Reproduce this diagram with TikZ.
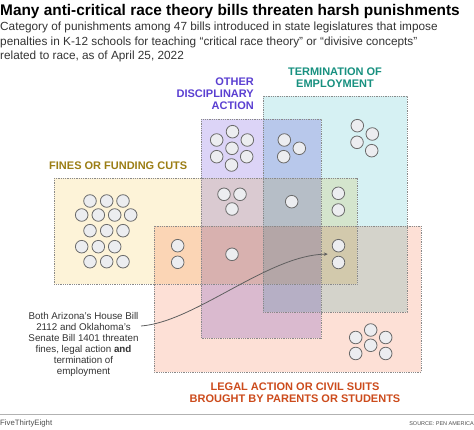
\documentclass[tikz,border=0pt]{standalone}
\usepackage{fontspec}
\setmainfont{Liberation Sans}
\usepackage{xcolor}
\usetikzlibrary{arrows.meta,positioning,calc}

\definecolor{termfill}{HTML}{D6F1F3}
\definecolor{discfill}{HTML}{DCD4F7}
\definecolor{finefill}{HTML}{FDF3D8}
\definecolor{legalfill}{HTML}{FDE0D6}
\definecolor{termtext}{HTML}{17907F}
\definecolor{disctext}{HTML}{5A3FD1}
\definecolor{finetext}{HTML}{9B7D14}
\definecolor{legaltext}{HTML}{CC4B1C}
\definecolor{framegray}{HTML}{8A8A8A}
\definecolor{dotfill}{HTML}{ECEDF0}
\definecolor{dotline}{HTML}{6A6A6A}
\definecolor{subgray}{HTML}{333333}

\begin{document}
\begin{tikzpicture}[x=1pt,y=-1pt,
  venn/.style={blend mode=multiply},
  frame/.style={draw=framegray,densely dotted,line width=0.8pt},
  dot/.style={circle,draw=dotline,fill=dotfill,line width=0.8pt,minimum size=12.6pt,inner sep=0pt},
  cat/.style={font=\bfseries\fontsize{11}{12}\selectfont,inner sep=0pt}]
\useasboundingbox (0,0) rectangle (474,430);

% Title and subtitle (base anchor = last line)
\node[anchor=base west,inner sep=0pt,font=\bfseries\fontsize{15.4}{18}\selectfont] (title) at (0,15.5)
  {Many anti-critical race theory bills threaten harsh punishments};
\node[anchor=base west,inner sep=0pt,align=left,text=subgray,font=\fontsize{11.8}{14.5}\selectfont] (sub) at (0,60)
  {Category of punishments among 47 bills introduced in state legislatures that impose\\
   penalties in K-12 schools for teaching “critical race theory” or “divisive concepts”\\
   related to race, as of April 25, 2022};

% Category boxes
\fill[termfill,venn] (263,96) rectangle (407,312);
\fill[discfill,venn] (201,119) rectangle (321,338);
\fill[finefill,venn] (54,178) rectangle (357,284);
\fill[legalfill,venn] (154,226) rectangle (421,372);
\draw[frame] (263,96) rectangle (407,312);
\draw[frame] (201,119) rectangle (321,338);
\draw[frame] (54,178) rectangle (357,284);
\draw[frame] (154,226) rectangle (421,372);

% Category labels
\node[cat,text=disctext,anchor=base east,align=right] (disc) at (254,110) {OTHER\\DISCIPLINARY\\ACTION};
\node[cat,text=termtext,anchor=base,align=center] (term) at (335,88) {TERMINATION OF\\EMPLOYMENT};
\node[cat,text=finetext,anchor=base west] (fine) at (49,169.5) {FINES OR FUNDING CUTS};
\node[cat,text=legaltext,anchor=base,align=center] (legal) at (295,402) {LEGAL ACTION OR CIVIL SUITS\\BROUGHT BY PARENTS OR STUDENTS};

% Bills, one circle each
\foreach \x/\y [count=\i] in {232.5/131.7,216.7/140,247.3/140,232/148.3,216.7/156.7,246.7/156.7,231.5/165}
  \node[dot] (d\i) at (\x,\y) {};
\foreach \x/\y [count=\i] in {284.3/140,299.3/148.3,283.7/156.7}
  \node[dot] (dt\i) at (\x,\y) {};
\foreach \x/\y [count=\i] in {357.3/125.7,372.3/134,357/142.3,371.7/150.7}
  \node[dot] (t\i) at (\x,\y) {};
\foreach \x/\y [count=\i] in {224/194.3,240/194.3,232/209}
  \node[dot] (fd\i) at (\x,\y) {};
\node[dot] (fdt1) at (291.7,201.7) {};
\foreach \x/\y [count=\i] in {338.3/193.3,338.3/210}
  \node[dot] (ft\i) at (\x,\y) {};
\foreach \x/\y [count=\i] in {90/201,106.7/201,123/201,
    81.7/215,98.3/215,114.7/215,130.7/215,
    90/230.7,106.7/230.7,123/230.7,
    81.7/246.7,98.3/246.7,114.7/246.7,
    90/261.7,106.7/261.7,123/261.7}
  \node[dot] (f\i) at (\x,\y) {};
\foreach \x/\y [count=\i] in {177.7/245.7,177.7/262.3}
  \node[dot] (fl\i) at (\x,\y) {};
\node[dot] (fdl1) at (232,254.3) {};
\foreach \x/\y [count=\i] in {338.5/245.7,338.5/262.5}
  \node[dot] (ftl\i) at (\x,\y) {};
\foreach \x/\y [count=\i] in {370.7/330,355.7/337.5,385.7/337.5,370.7/345.3,355.7/353.5,385.7/353.5}
  \node[dot] (l\i) at (\x,\y) {};

% Annotation
\node[anchor=base,inner sep=0pt,align=center,text=subgray,font=\fontsize{9.8}{11}\selectfont] (note) at (83.5,374.5)
  {Both Arizona’s House Bill\\2112 and Oklahoma’s\\Senate Bill 1401 threaten\\
   fines, legal action \textbf{and}\\termination of\\employment};
\coordinate (from) at (141,326);
\coordinate (tip) at ($(ftl1.west)!0.5!(ftl2.west)+(-4,0)$);
\draw[-{Stealth[length=4pt,width=3.5pt]},draw=dotline!90!black,line width=0.8pt]
  (from) .. controls (195,322) and (268,255) .. (tip);

% Footer
\draw[black!30,line width=0.8pt] (0,414) -- (474,414);
\node[anchor=base west,inner sep=0pt,text=black!70,font=\fontsize{7.8}{9}\selectfont] (brand) at (0,425) {FiveThirtyEight};
\node[anchor=base east,inner sep=0pt,text=black!70,font=\fontsize{5.5}{8}\selectfont] (src) at (474,425) {SOURCE: PEN AMERICA};
\end{tikzpicture}
\end{document}
